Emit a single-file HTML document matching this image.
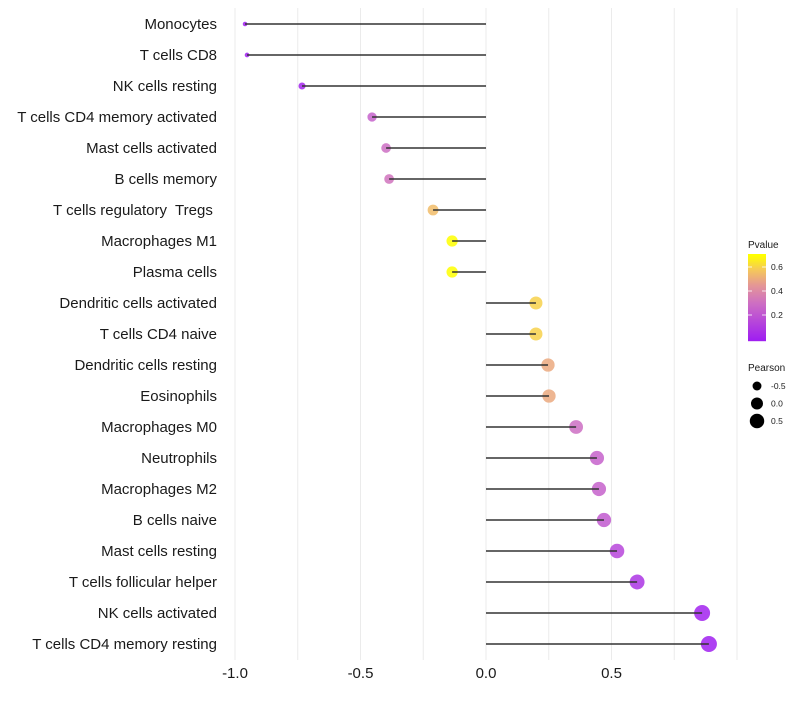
<!DOCTYPE html>
<html><head><meta charset="utf-8"><style>
body{margin:0;background:#fff;font-family:"Liberation Sans",sans-serif;}
</style></head><body>
<svg id="chart" width="800" height="700" xmlns="http://www.w3.org/2000/svg"></svg>
<script>
const categories=["Monocytes","T cells CD8","NK cells resting","T cells CD4 memory activated","Mast cells activated","B cells memory","T cells regulatory  Tregs ","Macrophages M1","Plasma cells","Dendritic cells activated","T cells CD4 naive","Dendritic cells resting","Eosinophils","Macrophages M0","Neutrophils","Macrophages M2","B cells naive","Mast cells resting","T cells follicular helper","NK cells activated","T cells CD4 memory resting"];
const pearson=[-0.96,-0.952,-0.733,-0.454,-0.398,-0.386,-0.211,-0.135,-0.135,0.199,0.199,0.247,0.251,0.359,0.442,0.45,0.47,0.522,0.602,0.861,0.888];
const pvalues=[0.0,0.0,0.02,0.25,0.3,0.32,0.55,0.7,0.7,0.6,0.6,0.5,0.5,0.3,0.25,0.25,0.22,0.15,0.08,0.01,0.0];
const xTicks=[-1.0,-0.5,0.0,0.5];
const xTickLabels=["-1.0","-0.5","0.0","0.5"];
const pTicks=[0.2,0.4,0.6];
const sizeTicks=[-0.5,0.0,0.5];

const NS="http://www.w3.org/2000/svg";
const svg=document.getElementById('chart');
function mk(t,a){const e=document.createElementNS(NS,t);for(const k in a)e.setAttribute(k,a[k]);svg.appendChild(e);return e;}
const xs=v=>486+v*251;
const ys=i=>24+i*31;
const rs=v=>1.15*Math.sqrt(Math.max(27.3+24.3*v,2));
const stops=[[0,[160,32,240]],[0.3,[205,110,195]],[0.45,[228,150,150]],[0.58,[245,200,90]],[0.7,[255,255,0]]];
function col(p){p=Math.max(0,Math.min(0.7,p));for(let i=1;i<stops.length;i++){if(p<=stops[i][0]){const a=stops[i-1],b=stops[i];const t=(p-a[0])/(b[0]-a[0]);return 'rgb('+a[1].map((c,j)=>Math.round(c+(b[1][j]-c)*t)).join(',')+')';}}return 'rgb(255,255,0)';}

for(let v=-1;v<=1.0001;v+=0.25){
  const g=mk('line',{x1:xs(v),x2:xs(v),y1:8,y2:660,stroke:'#ebebeb','stroke-width':1});
  
  
}
categories.forEach((c,i)=>{
  const t=mk('text',{x:217,y:ys(i)+5,'text-anchor':'end','font-size':15,fill:'#1a1a1a','xml:space':'preserve'});
  t.style.whiteSpace='pre';
  t.textContent=c;
  
  
  const p=mk('circle',{cx:xs(pearson[i]),cy:ys(i),r:rs(pearson[i]),fill:col(pvalues[i]),'fill-opacity':0.85});
  
  
  const l=mk('line',{x1:xs(0),x2:xs(pearson[i]),y1:ys(i),y2:ys(i),stroke:'#333','stroke-width':1.4});
  
  
});
xTicks.forEach((v,i)=>{
  const t=mk('text',{x:xs(v),y:678,'text-anchor':'middle','font-size':15,fill:'#1a1a1a'});
  t.textContent=xTickLabels[i];
  
  
});
const lt=mk('text',{x:748,y:248,'font-size':10,fill:'#1a1a1a'});lt.textContent='Pvalue';


const cy=v=>339-v*120;
for(let y=254;y<341;y++){
  const r=mk('rect',{x:748,y:y,width:18,height:1.2,fill:col((339-y)/120)});
  
  
}
pTicks.forEach(v=>{
  mk('line',{x1:748,x2:752,y1:cy(v),y2:cy(v),stroke:'#fff','stroke-width':0.8});
  mk('line',{x1:762,x2:766,y1:cy(v),y2:cy(v),stroke:'#fff','stroke-width':0.8});
  const t=mk('text',{x:771,y:cy(v)+3,'font-size':8.5,fill:'#1a1a1a'});t.textContent=v.toFixed(1);
  
  
});
const st=mk('text',{x:748,y:371,'font-size':10,fill:'#1a1a1a'});st.textContent='Pearson';


sizeTicks.forEach((v,i)=>{
  const y=386+i*17.5;
  const c=mk('circle',{cx:757,cy:y,r:rs(v),fill:'#000'});
  
  
  const t=mk('text',{x:771,y:y+3,'font-size':8.5,fill:'#1a1a1a'});t.textContent=v.toFixed(1);
  
  
});
</script>
</body></html>
